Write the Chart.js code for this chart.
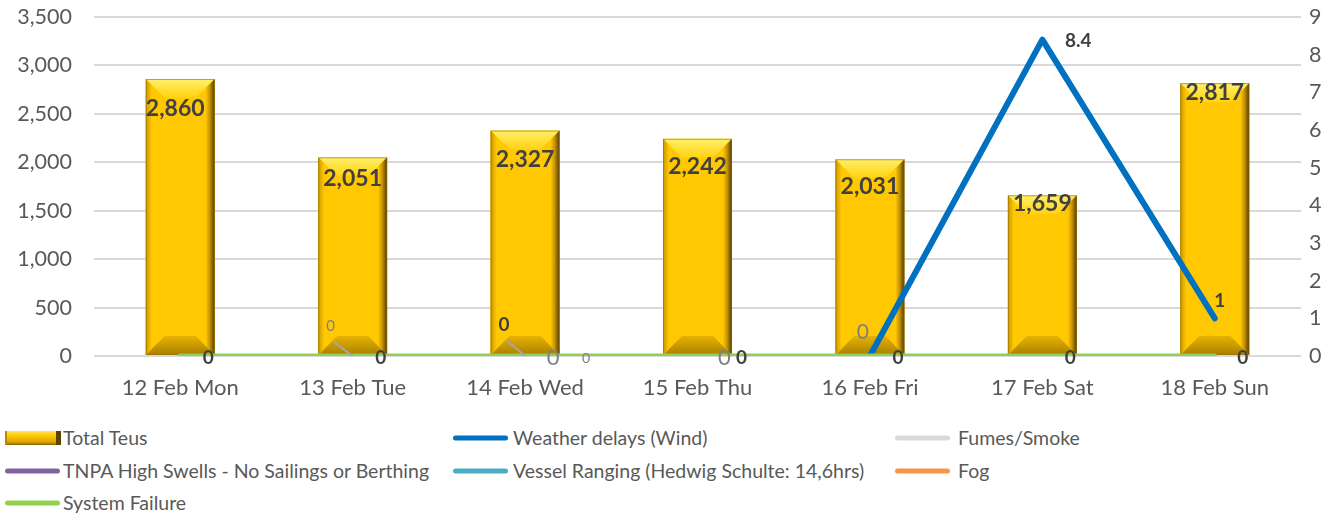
<!DOCTYPE html>
<html><head><meta charset="utf-8">
<script src="https://cdn.jsdelivr.net/npm/chart.js@4.4.1/dist/chart.umd.min.js"></script>
<style>
html,body{margin:0;padding:0;background:#fff;}
#wrap{position:relative;width:1344px;height:518px;overflow:hidden;}
#box{position:absolute;left:0;top:0;width:1344px;height:415px;}
.lg{position:absolute;font-family:Lato,'Noto Sans',sans-serif;font-size:19.5px;color:#595959;white-space:nowrap;line-height:22px;transform:translateY(-50%);}
.sw{position:absolute;height:5px;border-radius:3px;transform:translateY(-50%);}
.swbar{position:absolute;height:14px;transform:translateY(-50%);background:linear-gradient(to bottom,#ffe45a 0%,#ffc800 35%,#e0a800 75%,#8a6500 100%);border-left:2px solid #b88a00;border-right:5px solid #5c4300;box-sizing:border-box;}
</style></head><body>
<div id="wrap"><div id="box"><canvas id="cv"></canvas></div><div id="legend"></div></div>
<script>
// ---- data ----
const categories = ['12 Feb Mon','13 Feb Tue','14 Feb Wed','15 Feb Thu','16 Feb Fri','17 Feb Sat','18 Feb Sun'];
const totalTeus = [2860, 2051, 2327, 2242, 2031, 1659, 2817];
const weatherDelays = [null, null, null, null, 0, 8.4, 1];
const fumesSmoke = [null, 0, 0, null, null, null, null];
const tnpaHighSwells = [null, null, 0, null, null, null, null];
const vesselRanging = [null, null, 0, 0, null, null, null];
const fog = [null, null, null, null, null, null, null];
const systemFailure = [0, 0, 0, 0, 0, 0, 0];
const leftTicks = [0, 500, 1000, 1500, 2000, 2500, 3000, 3500];
const rightTicks = [0, 1, 2, 3, 4, 5, 6, 7, 8, 9];
const seriesNames = ['Total Teus','Weather delays (Wind)','Fumes/Smoke','TNPA High Swells - No Sailings or Berthing','Vessel Ranging (Hedwig Schulte: 14,6hrs)','Fog','System Failure'];
const seriesColors = ['#FFC800','#0070C0','#D9D9D9','#8064A2','#4BACC6','#F79646','#92D050'];

// ---- label styling (offsets relative to library-computed points) ----
const DARK = '#404040', GREY = '#7F7F7F';
const labelSpecs = [
  {ds:0, i:0, dx:-5, dy:30, size:23, bold:true, color:DARK},
  {ds:0, i:1, dx:0, dy:21, size:23, bold:true, color:DARK},
  {ds:0, i:2, dx:0, dy:29, size:23, bold:true, color:DARK},
  {ds:0, i:3, dx:0, dy:28, size:23, bold:true, color:DARK},
  {ds:0, i:4, dx:0, dy:27, size:23, bold:true, color:DARK},
  {ds:0, i:5, dx:0, dy:8, size:23, bold:true, color:DARK},
  {ds:0, i:6, dx:0, dy:9, size:23, bold:true, color:DARK},
  {ds:1, i:4, dx:-7, dy:-24, size:21, bold:false, color:GREY},
  {ds:1, i:5, dx:36, dy:1, size:19, bold:true, color:DARK},
  {ds:1, i:6, dx:5, dy:-17, size:19, bold:true, color:DARK},
  {ds:2, i:1, dx:-22, dy:-30, size:15, bold:false, color:GREY, leader:true},
  {ds:2, i:2, dx:-21, dy:-31, size:19, bold:true, color:DARK, leader:true},
  {ds:3, i:2, dx:61, dy:2, size:14, bold:false, color:GREY},
  {ds:6, i:0, dx:28, dy:2, size:19, bold:true, color:DARK},
  {ds:6, i:1, dx:28, dy:2, size:19, bold:true, color:DARK},
  {ds:6, i:3, dx:44, dy:2, size:19, bold:true, color:DARK},
  {ds:6, i:4, dx:28, dy:2, size:19, bold:true, color:DARK},
  {ds:6, i:5, dx:28, dy:2, size:19, bold:true, color:DARK},
  {ds:6, i:6, dx:28, dy:2, size:19, bold:true, color:DARK},
  {ds:4, i:2, dx:28, dy:2, size:22, bold:false, color:GREY},
  {ds:4, i:3, dx:27, dy:2, size:22, bold:false, color:GREY}
];

const FONT = 'Lato, "Noto Sans", sans-serif';

const bevelPlugin = {
  id:'bevel',
  afterDatasetDraw(chart, args){
    if (args.index !== 0) return;
    const ctx = chart.ctx;
    args.meta.data.forEach(el => {
      const {x, y, base, width} = el.getProps(['x','y','base','width'], true);
      const x0 = x - width/2, x1 = x + width/2, y0 = y, y1 = base;
      const h = y1 - y0; if (h <= 0) return;
      const b = Math.min(19, h/2), s = 6;
      ctx.save();
      let g = ctx.createLinearGradient(0, y0, 0, y0+b);
      g.addColorStop(0, '#FFF06A'); g.addColorStop(1, '#FFD20F');
      ctx.fillStyle = g; ctx.beginPath();
      ctx.moveTo(x0,y0); ctx.lineTo(x1,y0); ctx.lineTo(x1-b,y0+b); ctx.lineTo(x0+b,y0+b); ctx.closePath(); ctx.fill();
      g = ctx.createLinearGradient(0, y1-b, 0, y1);
      g.addColorStop(0, '#E8B200'); g.addColorStop(1, '#A88000');
      ctx.fillStyle = g; ctx.beginPath();
      ctx.moveTo(x0,y1); ctx.lineTo(x1,y1); ctx.lineTo(x1-b,y1-b); ctx.lineTo(x0+b,y1-b); ctx.closePath(); ctx.fill();
      g = ctx.createLinearGradient(x0, 0, x0+s, 0);
      g.addColorStop(0, '#C99600'); g.addColorStop(1, '#FFC800');
      ctx.fillStyle = g; ctx.beginPath();
      ctx.moveTo(x0,y0); ctx.lineTo(x0+s,y0+s); ctx.lineTo(x0+s,y1-s); ctx.lineTo(x0,y1); ctx.closePath(); ctx.fill();
      g = ctx.createLinearGradient(x1-s-3, 0, x1, 0);
      g.addColorStop(0, '#FFC800'); g.addColorStop(0.45, '#C89400'); g.addColorStop(1, '#4E3A00');
      ctx.fillStyle = g; ctx.beginPath();
      ctx.moveTo(x1,y0); ctx.lineTo(x1-s-3,y0+s+3); ctx.lineTo(x1-s-3,y1-s-3); ctx.lineTo(x1,y1); ctx.closePath(); ctx.fill();
      ctx.strokeStyle = 'rgba(150,110,0,0.6)'; ctx.lineWidth = 1;
      ctx.strokeRect(x0+0.5, y0+0.5, width-1, h-1);
      ctx.restore();
    });
  }
};

const labelPlugin = {
  id:'vlabels',
  afterDatasetsDraw(chart){
    const ctx = chart.ctx;
    ctx.save();
    ctx.textAlign = 'center'; ctx.textBaseline = 'middle';
    labelSpecs.forEach(sp => {
      const v = chart.data.datasets[sp.ds].data[sp.i];
      if (v === null || v === undefined) return;
      const el = chart.getDatasetMeta(sp.ds).data[sp.i];
      const px = el.x, py = el.y;
      const lx = px + sp.dx, ly = py + sp.dy;
      if (sp.leader) {
        ctx.strokeStyle = '#A6A6A6'; ctx.lineWidth = 2;
        ctx.beginPath(); ctx.moveTo(lx + 2, ly + 15); ctx.lineTo(px, py); ctx.stroke();
      }
      ctx.font = (sp.bold ? 'bold ' : '') + sp.size + 'px ' + FONT;
      ctx.fillStyle = sp.color;
      ctx.fillText(v.toLocaleString('en-US'), lx, ly);
    });
    ctx.restore();
  }
};

const lineDs = (k, data, width, order) => ({
  type:'line', label:seriesNames[k], data, yAxisID:'y1', borderColor:seriesColors[k], backgroundColor:seriesColors[k],
  borderWidth:width, pointRadius:0, pointHoverRadius:0, fill:false, tension:0, spanGaps:false, order,
  borderCapStyle:'round', borderJoinStyle:'round'
});

new Chart(document.getElementById('cv'), {
  data:{
    labels: categories,
    datasets:[
      {type:'bar', label:seriesNames[0], data:totalTeus, yAxisID:'y', backgroundColor:seriesColors[0], barPercentage:0.4, categoryPercentage:1.0, order:10},
      lineDs(1, weatherDelays, 6, 2),
      lineDs(2, fumesSmoke, 4, 5),
      lineDs(3, tnpaHighSwells, 4, 5),
      lineDs(4, vesselRanging, 4, 5),
      lineDs(5, fog, 4, 5),
      lineDs(6, systemFailure, 5, 1)
    ]
  },
  options:{
    responsive:true, maintainAspectRatio:false, animation:false,
    layout:{padding:{top:17, bottom:0, left:0, right:0}},
    plugins:{legend:{display:false}, tooltip:{enabled:false}},
    scales:{
      x:{grid:{display:false, drawTicks:false}, border:{display:false},
         ticks:{color:'#595959', font:{family:FONT, size:22}, padding:19, maxRotation:0, autoSkip:false},
         afterFit(s){ s.height = 59; }},
      y:{position:'left', min:0, max:3500,
         afterBuildTicks(s){ s.ticks = leftTicks.map(v => ({value:v})); },
         ticks:{color:'#595959', font:{family:FONT, size:21.5}, padding:22, callback:v => v.toLocaleString('en-US')},
         grid:{color:'#D9D9D9', lineWidth:2, drawTicks:false}, border:{display:false},
         afterFit(s){ s.width = 94; s.paddingTop = 0; s.paddingBottom = 0; }},
      y1:{position:'right', min:0, max:9,
         afterBuildTicks(s){ s.ticks = rightTicks.map(v => ({value:v})); },
         ticks:{color:'#595959', font:{family:FONT, size:21.5}, padding:8},
         grid:{display:false, drawTicks:false}, border:{display:false},
         afterFit(s){ s.width = 43; s.paddingTop = 0; s.paddingBottom = 0; }}
    }
  },
  plugins:[bevelPlugin, labelPlugin]
});

// ---- legend (HTML text) ----
const legendLayout = [
  {k:0, x:5, tx:63, y:438}, {k:1, x:453, tx:513, y:438}, {k:2, x:895, tx:958, y:438},
  {k:3, x:5, tx:63, y:471}, {k:4, x:453, tx:513, y:471}, {k:5, x:895, tx:958, y:471},
  {k:6, x:5, tx:63, y:503}
];
const lg = document.getElementById('legend');
legendLayout.forEach(it => {
  const sw = document.createElement('div');
  if (it.k === 0) { sw.className = 'swbar'; sw.style.width = '56px'; }
  else { sw.className = 'sw'; sw.style.width = '55px'; sw.style.background = seriesColors[it.k]; }
  sw.style.left = it.x + 'px'; sw.style.top = it.y + 'px';
  lg.appendChild(sw);
  const t = document.createElement('div');
  t.className = 'lg'; t.textContent = seriesNames[it.k];
  t.style.left = it.tx + 'px'; t.style.top = it.y + 'px';
  lg.appendChild(t);
});
</script>
</body></html>
